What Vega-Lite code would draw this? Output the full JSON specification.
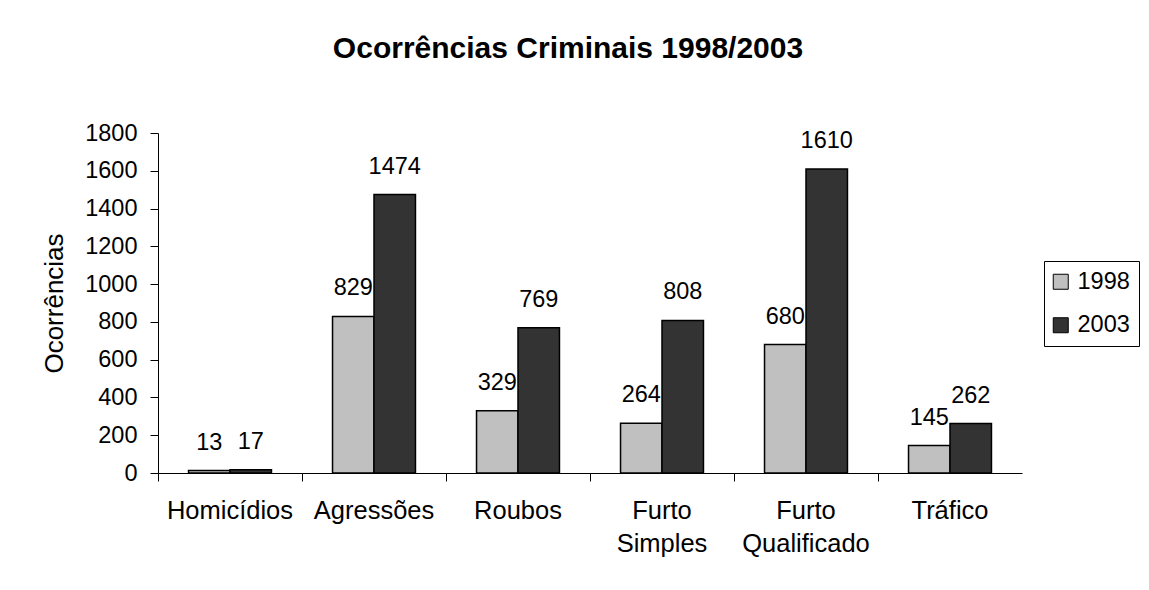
{
  "$schema": "https://vega.github.io/schema/vega-lite/v6.json",
  "width": 864,
  "height": 340,
  "autosize": {"type": "none"},
  "padding": {"left": 158, "top": 133, "right": 127, "bottom": 117},
  "background": "white",
  "title": {"text": "Ocorrências Criminais 1998/2003", "fontSize": 30, "fontWeight": "bold", "font": "Liberation Sans", "color": "black", "anchor": "middle", "dx": -22, "dy": 2, "offset": 59},
  "data": {"values": [
    {"crime": "Homicídios", "ano": "1998", "valor": 13},
    {"crime": "Homicídios", "ano": "2003", "valor": 17},
    {"crime": "Agressões", "ano": "1998", "valor": 829},
    {"crime": "Agressões", "ano": "2003", "valor": 1474},
    {"crime": "Roubos", "ano": "1998", "valor": 329},
    {"crime": "Roubos", "ano": "2003", "valor": 769},
    {"crime": "Furto Simples", "ano": "1998", "valor": 264},
    {"crime": "Furto Simples", "ano": "2003", "valor": 808},
    {"crime": "Furto Qualificado", "ano": "1998", "valor": 680},
    {"crime": "Furto Qualificado", "ano": "2003", "valor": 1610},
    {"crime": "Tráfico", "ano": "1998", "valor": 145},
    {"crime": "Tráfico", "ano": "2003", "valor": 262}
  ]},
  "encoding": {
    "y": {"field": "valor", "type": "quantitative", "scale": {"domain": [0, 1800]},
      "axis": {"title": "Ocorrências", "titleFont": "Liberation Sans", "titleFontSize": 26, "titleFontWeight": "normal", "titleColor": "black", "titlePadding": 17, "values": [0, 200, 400, 600, 800, 1000, 1200, 1400, 1600, 1800], "format": "d", "labelOverlap": false, "labelFont": "Liberation Sans", "labelFontSize": 23.5, "labelColor": "black", "labelPadding": 13, "tickSize": 8, "tickColor": "black", "domainColor": "black", "grid": false}}
  },
  "layer": [
    {
      "mark": {"type": "bar", "stroke": "black", "strokeWidth": 1.5},
      "encoding": {
        "x": {"field": "crime", "type": "nominal", "sort": ["Homicídios", "Agressões", "Roubos", "Furto Simples", "Furto Qualificado", "Tráfico"],
          "scale": {"paddingInner": 0.424, "paddingOuter": 0.212},
          "axis": {"title": null, "orient": "bottom", "labelAngle": 0, "labelFont": "Liberation Sans", "labelFontSize": 25.5, "labelColor": "black", "labelLineHeight": 33, "labelPadding": 25, "ticks": false, "domainColor": "black", "domainWidth": 1, "labelExpr": "split(datum.label, ' ')"}},
        "xOffset": {"field": "ano", "type": "nominal", "sort": ["1998", "2003"]},
        "color": {"field": "ano", "type": "nominal", "sort": ["1998", "2003"], "scale": {"range": ["#C0C0C0", "#333333"]},
          "legend": {"title": null, "orient": "none", "legendX": 886, "legendY": 128, "symbolType": "square", "symbolSize": 225, "symbolStrokeColor": "black", "symbolStrokeWidth": 1, "symbolOffset": -4, "labelFont": "Liberation Sans", "labelFontSize": 23.5, "labelColor": "black", "labelOffset": 5, "rowPadding": 18.5, "padding": 9, "strokeColor": "black", "fillColor": "white"}}
      }
    },
    {
      "mark": {"type": "text", "dy": -21, "baseline": "alphabetic", "fontSize": 23.5, "font": "Liberation Sans", "color": "black"},
      "encoding": {
        "x": {"field": "crime", "type": "nominal", "sort": ["Homicídios", "Agressões", "Roubos", "Furto Simples", "Furto Qualificado", "Tráfico"],
          "axis": {"title": null, "orient": "bottom", "labels": false, "domain": false, "ticks": true, "tickSize": 8, "tickColor": "black", "bandPosition": -0.367}},
        "xOffset": {"field": "ano", "type": "nominal", "sort": ["1998", "2003"]},
        "text": {"field": "valor", "type": "quantitative"}
      }
    }
  ],
  "resolve": {"axis": {"x": "independent"}},
  "config": {"view": {"stroke": null}, "axis": {"grid": false}}
}
